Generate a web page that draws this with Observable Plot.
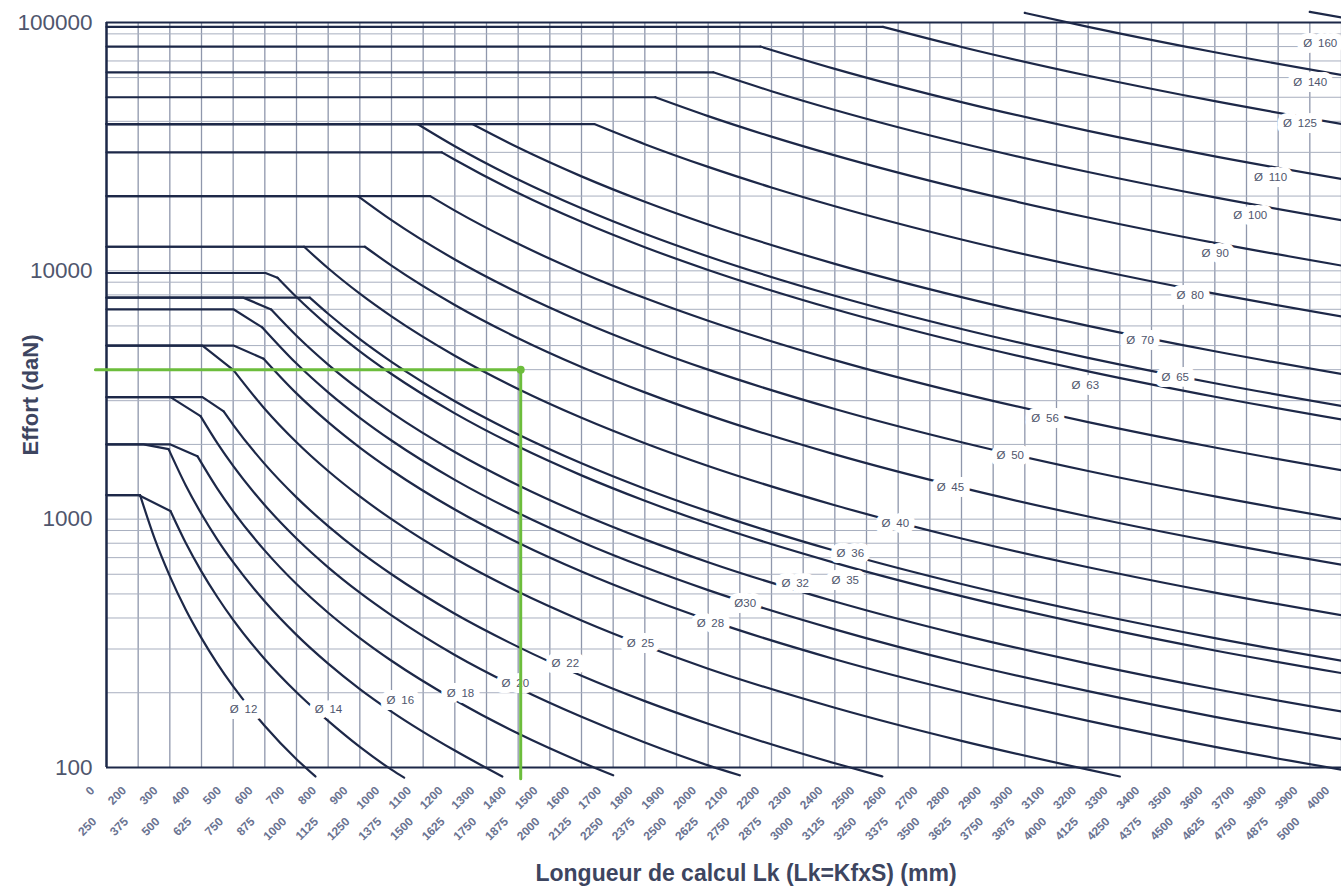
<!DOCTYPE html>
<html><head><meta charset="utf-8">
<script src="https://cdn.jsdelivr.net/npm/d3@7"></script>
<script src="https://cdn.jsdelivr.net/npm/@observablehq/plot@0.6"></script>
<style>
html,body{margin:0;padding:0;background:#fff;}
#chart svg{display:block;}
</style></head><body><div id="chart"></div>
<script>
// x positions: calculation length (mm, upper scale); ticks every 100
const xTicks = [100,200,300,400,500,600,700,800,900,1000,1100,1200,1300,1400,1500,1600,1700,1800,1900,2000,2100,2200,2300,2400,2500,2600,2700,2800,2900,3000,3100,3200,3300,3400,3500,3600,3700,3800,3900,4000];
const topLabels = ["0","200","300","400","500","600","700","800","900","1000","1100","1200","1300","1400","1500","1600","1700","1800","1900","2000","2100","2200","2300","2400","2500","2600","2700","2800","2900","3000","3100","3200","3300","3400","3500","3600","3700","3800","3900","4000"];
const bottomLabels = ["250","375","500","625","750","875","1000","1125","1250","1375","1500","1625","1750","1875","2000","2125","2250","2375","2500","2625","2750","2875","3000","3125","3250","3375","3500","3625","3750","3875","4000","4125","4250","4375","4500","4625","4750","4875","5000"];
const yTickValues = [100,1000,10000,100000];
const yGrid = [200,300,400,500,600,700,800,900,1000,2000,3000,4000,5000,6000,7000,8000,9000,10000,20000,30000,40000,50000,60000,70000,80000,90000];

// curves: [length, force]
const c12 = [[100,1250],[206,1250],[250,849],[300,590],[350,433],[400,332],[450,262],[500,212],[600,147],[700,108],[760,92]];
const c14 = [[100,1250],[201,1250],[302,1078],[350,803],[400,615],[450,486],[500,393],[600,273],[700,201],[800,154],[900,121],[1000,98],[1040,91]];
const c16 = [[100,2000],[217,2000],[296,1915],[350,1370],[400,1049],[450,828],[500,671],[600,466],[700,342],[800,262],[900,207],[1000,168],[1200,117],[1350,92]];
const c18 = [[100,2000],[302,2000],[387,1794],[450,1327],[500,1075],[600,747],[700,548],[800,420],[900,332],[1000,269],[1200,187],[1400,137],[1600,105],[1700,93]];
const c20 = [[100,3100],[302,3100],[397,2599],[450,2023],[500,1638],[600,1138],[700,836],[800,640],[900,506],[1000,410],[1200,284],[1400,209],[1600,160],[1800,126],[2000,102],[2100,93]];
const c22 = [[100,3100],[403,3100],[470,2715],[500,2399],[600,1666],[700,1224],[800,937],[900,740],[1000,600],[1200,416],[1400,306],[1600,234],[1800,185],[2000,150],[2400,104],[2550,92]];
const c25 = [[100,5000],[403,5000],[501,3984],[600,2778],[700,2041],[800,1563],[900,1235],[1000,1000],[1200,694],[1400,510],[1600,391],[1800,309],[2000,250],[2400,174],[2800,128],[3200,98],[3300,92]];
const c28 = [[100,5000],[501,5000],[596,4430],[700,3211],[800,2459],[900,1943],[1000,1574],[1200,1093],[1400,803],[1600,615],[1800,486],[2000,393],[2400,273],[2800,201],[3200,154],[3600,121],[4000,98]];
const c30 = [[100,7000],[501,7000],[592,5917],[700,4232],[800,3240],[900,2560],[1000,2074],[1200,1440],[1400,1058],[1600,810],[1800,640],[2000,518],[2400,360],[2800,264],[3200,203],[3600,160],[4000,130]];
const c32 = [[100,7800],[532,7800],[620,6983],[700,5478],[800,4194],[900,3314],[1000,2684],[1200,1864],[1400,1370],[1600,1049],[1800,829],[2000,671],[2400,466],[2800,342],[3200,262],[3600,207],[4000,168]];
const c35 = [[100,9800],[602,9800],[640,9379],[700,7840],[800,6003],[900,4743],[1000,3842],[1200,2668],[1400,1960],[1600,1501],[1800,1186],[2000,960],[2400,667],[2800,490],[3200,375],[3600,296],[4000,240]];
const c36 = [[100,7800],[742,7800],[800,6718],[900,5308],[1000,4300],[1200,2986],[1400,2194],[1600,1680],[1800,1327],[2000,1075],[2400,746],[2800,548],[3200,420],[3600,332],[4000,269]];
const c40 = [[100,12500],[724,12500],[800,10240],[900,8091],[1000,6554],[1200,4551],[1400,3344],[1600,2560],[1800,2023],[2000,1638],[2400,1138],[2800,836],[3200,640],[3600,506],[4000,410]];
const c45 = [[100,12500],[916,12500],[1000,10498],[1200,7290],[1400,5356],[1600,4101],[1800,3240],[2000,2624],[2400,1823],[2800,1339],[3200,1025],[3600,810],[4000,656]];
const c50 = [[100,20000],[894,20000],[1000,16000],[1200,11111],[1400,8163],[1600,6250],[1800,4938],[2000,4000],[2400,2778],[2800,2041],[3200,1563],[3600,1235],[4000,1000]];
const c56 = [[100,20000],[1122,20000],[1200,17483],[1400,12845],[1600,9834],[1800,7770],[2000,6294],[2400,4371],[2800,3211],[3200,2459],[3600,1943],[4000,1574]];
const c63 = [[100,30000],[1159,30000],[1200,28005],[1400,20575],[1600,15753],[1800,12447],[2000,10082],[2400,7001],[2800,5144],[3200,3938],[3600,3112],[4000,2520]];
const c65 = [[100,39000],[1082,39000],[1200,31735],[1400,23315],[1600,17851],[1800,14104],[2000,11424],[2400,7934],[2800,5829],[3200,4463],[3600,3526],[4000,2856]];
const c70 = [[100,39000],[1255,39000],[1400,31360],[1600,24010],[1800,18971],[2000,15366],[2400,10671],[2800,7840],[3200,6003],[3600,4743],[4000,3842]];
const c80 = [[100,39000],[1640,39000],[1800,32363],[2000,26214],[2200,21665],[2400,18205],[2800,13375],[3200,10240],[3600,8091],[4000,6554]];
const c90 = [[100,50000],[1833,50000],[2000,41990],[2200,34703],[2400,29160],[2800,21424],[3200,16402],[3600,12960],[4000,10498]];
const c100 = [[100,63000],[2016,63000],[2200,52893],[2400,44444],[2800,32653],[3200,25000],[3600,19753],[4000,16000]];
const c110 = [[100,80000],[2165,80000],[2400,65071],[2800,47808],[3200,36602],[3600,28920],[4000,23426]];
const c125 = [[100,96000],[2552,96000],[2800,79719],[3200,61035],[3600,48225],[4000,39063]];
const c140 = [[3000,109272],[3200,96040],[3600,75883],[4000,61466]];
const c160 = [[3900,110304],[4000,104858]];

const curves = [c12,c14,c16,c18,c20,c22,c25,c28,c30,c32,c35,c36,c40,c45,c50,c56,c63,c65,c70,c80,c90,c100,c110,c125,c140,c160];
// number of leading points drawn as straight segments (plateau / knee)
const straightCount = [2,3,3,3,3,3,3,3,3,3,3,2,2,2,2,2,2,2,2,2,2,2,2,2,1,1];

// curve labels
const labelText = ["Ø 12","Ø 14","Ø 16","Ø 18","Ø 20","Ø 22","Ø 25","Ø 28","Ø30","Ø 32","Ø 35","Ø 36","Ø 40","Ø 45","Ø 50","Ø 56","Ø 63","Ø 65","Ø 70","Ø 80","Ø 90","Ø 100","Ø 110","Ø 125","Ø 140","Ø 160"];
const labelL = [533,801,1028,1218,1391,1549,1786,2007,2117,2275,2433,2449,2591,2765,2954,3064,3191,3475,3364,3522,3601,3712,3776,3869,3901,3933];
const labelF = [171,171,186,199,218,262,316,380,458,551,566,727,961,1339,1806,2540,3450,3712,5236,7967,11747,16726,23860,39380,57460,82530];

// reading example (green)
const greenL = [65,1408,1408];
const greenF = [4000,4000,90];

const flatRows = [], bendRows = [];
curves.forEach((c, i) => {
  const n = straightCount[i];
  c.slice(0, n).forEach(([L, F]) => flatRows.push({id: i, L, F}));
  c.slice(n - 1).forEach(([L, F]) => bendRows.push({id: i, L, F}));
});
const labels = labelText.map((t, i) => ({t: t.replace(" ", "\u2002"), L: labelL[i], F: labelF[i]}));
const green = greenL.map((L, i) => ({L, F: greenF[i]}));

const navy = "#1d2848";
const grey = "#4f566d";
const chart = Plot.plot({
  width: 1341, height: 886,
  marginLeft: 106, marginRight: 0, marginTop: 22, marginBottom: 119,
  x: {type: "linear", domain: [100, 4000], axis: null},
  y: {type: "log", domain: [100, 100000], axis: null},
  style: {fontFamily: "'Liberation Sans', Arial, sans-serif", background: "#fff", overflow: "visible"},
  marks: [
    Plot.ruleX(xTicks.slice(1), {stroke: "#8f97ac", strokeWidth: 1.3}),
    Plot.ruleY(yGrid, {stroke: "#a8afbf", strokeWidth: 1}),
    Plot.line(flatRows, {x: "L", y: "F", z: "id", stroke: navy, strokeWidth: 2.2, curve: "linear"}),
    Plot.line(bendRows, {x: "L", y: "F", z: "id", stroke: navy, strokeWidth: 2.2, curve: "monotone-x"}),
    Plot.text(labels, {x: "L", y: "F", text: "t", fontSize: 11.5, fill: grey, stroke: "white", strokeWidth: 12}),
    Plot.ruleX([100], {stroke: navy, strokeWidth: 2.5}),
    Plot.ruleY([100, 100000], {stroke: navy, strokeWidth: 2.2}),
    Plot.line(green, {x: "L", y: "F", stroke: "#6cbd3c", strokeWidth: 3}),
    Plot.dot(green.slice(1, 2), {x: "L", y: "F", r: 4, fill: "#6cbd3c"}),
    Plot.text(yTickValues, {frameAnchor: "left", y: d => d, text: d => String(d), textAnchor: "end", dx: -14, fontSize: 22.5, letterSpacing: 1, fill: grey}),
    Plot.text(xTicks, {frameAnchor: "bottom", x: d => d, text: (d, i) => topLabels[i], rotate: -45, textAnchor: "end", lineAnchor: "middle", dx: -14, dy: 21, fontSize: 12, fontWeight: "bold", fill: "#6a7391"}),
    Plot.text(xTicks.slice(0, bottomLabels.length), {frameAnchor: "bottom", x: d => d, text: (d, i) => bottomLabels[i], rotate: -45, textAnchor: "end", lineAnchor: "middle", dx: -12, dy: 52, fontSize: 12, fontWeight: "bold", fill: "#6a7391"}),
    Plot.text(["Effort (daN)"], {frameAnchor: "left", textAnchor: "middle", lineAnchor: "middle", rotate: -90, dx: -76, fontSize: 22, fontWeight: "bold", fill: "#3d4560"}),
    Plot.text(["Longueur de calcul Lk (Lk=KfxS) (mm)"], {frameAnchor: "bottom", textAnchor: "middle", lineAnchor: "middle", dx: 22, dy: 106, fontSize: 23, fontWeight: "bold", fill: "#3d4560"})
  ]
});
document.getElementById("chart").append(chart);
</script></body></html>
